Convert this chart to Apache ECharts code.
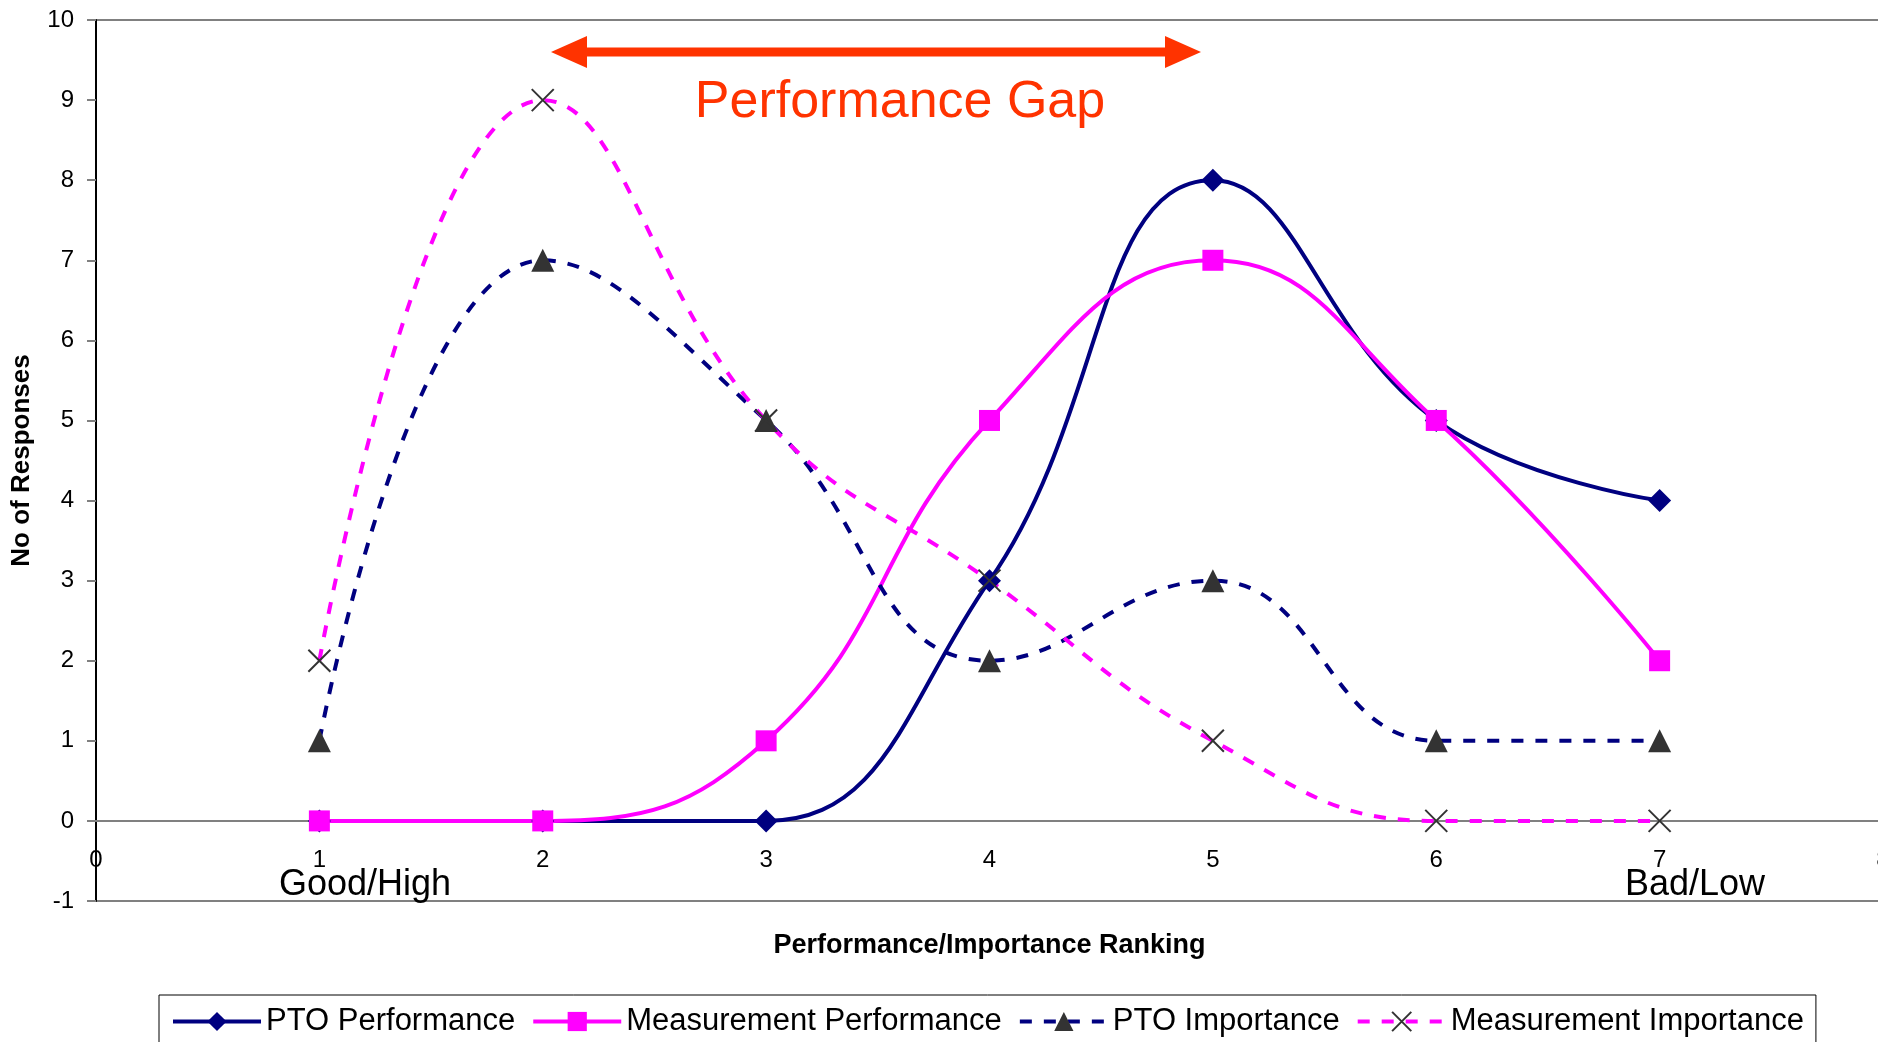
<!DOCTYPE html>
<html>
<head>
<meta charset="utf-8">
<script src="https://cdn.jsdelivr.net/npm/echarts@6/dist/echarts.min.js"></script>
<style>
  html, body { margin: 0; padding: 0; background: #fff; }
  #chart { width: 1878px; height: 1042px; }
</style>
</head>
<body>
<div id="chart"></div>
<script>
// Rankings 1 (good/high) .. 7 (bad/low)
const rankings = [1, 2, 3, 4, 5, 6, 7];

const ptoPerformance = [0, 0, 0, 3, 8, 5, 4];
const measurementPerformance = [0, 0, 1, 5, 7, 5, 2];
const ptoImportance = [1, 7, 5, 2, 3, 1, 1];
const measurementImportance = [2, 9, 5, 3, 1, 0, 0];

const seriesNames = ['PTO Performance', 'Measurement Performance', 'PTO Importance', 'Measurement Importance'];

const NAVY = '#000080';
const MAGENTA = '#FF00FF';
const MARKER_GREY = '#333333';
const GAP_RED = '#FF3300';
const FONT = '"Liberation Sans", Arial, sans-serif';

const pairs = vals => rankings.map((r, i) => [r, vals[i]]);
const CROSS = 'path://M0,0L10,10M10,0L0,10';

// plot area: y from -1 to 10 over 881px, so one unit is 881 / 11 px
const GRID_H = 881;
const UNIT_Y = GRID_H / 11;

const chart = echarts.init(document.getElementById('chart'));

chart.setOption({
  animation: false,
  textStyle: { fontFamily: FONT },
  grid: {
    left: 96, top: 20, width: 1787, height: GRID_H,
    outerBoundsMode: 'none',
    containLabel: false,
    show: true, borderColor: '#808080', borderWidth: 2, backgroundColor: 'transparent'
  },
  xAxis: {
    type: 'value', min: 0, max: 8, interval: 1,
    // the ranking axis crosses at y = 0, one unit above the bottom of the plot
    offset: -UNIT_Y,
    axisLine: { onZero: false, lineStyle: { color: '#808080', width: 2 } },
    axisTick: { show: false },
    splitLine: { show: false },
    axisLabel: { fontSize: 24, color: '#000', margin: 27, fontFamily: FONT },
    name: 'Performance/Importance Ranking',
    nameLocation: 'middle',
    nameGap: 111,
    nameTextStyle: { fontSize: 27, fontWeight: 'bold', color: '#000', fontFamily: FONT }
  },
  yAxis: {
    type: 'value', min: -1, max: 10, interval: 1,
    axisLine: { show: true, onZero: false, lineStyle: { color: '#000', width: 2 } },
    axisTick: { show: true, length: 9, lineStyle: { color: '#808080', width: 2 } },
    splitLine: { show: false },
    axisLabel: { fontSize: 24, color: '#000', margin: 22, fontFamily: FONT },
    name: 'No of Responses',
    nameLocation: 'middle',
    nameRotate: 90,
    nameGap: 61,
    nameTextStyle: { fontSize: 26, fontWeight: 'bold', color: '#000', fontFamily: FONT }
  },
  legend: {
    left: 159, top: 995,
    orient: 'horizontal',
    padding: [11, 12, 11, 12],
    borderColor: '#000', borderWidth: 1,
    itemWidth: 88, itemHeight: 24, itemGap: 16,
    lineStyle: { width: 4 },
    textStyle: { fontSize: 31, color: '#000', fontFamily: FONT },
    data: seriesNames
  },
  series: [
    {
      name: seriesNames[0], type: 'line', smooth: 0.45,
      data: pairs(ptoPerformance),
      symbol: 'diamond', symbolSize: 23,
      lineStyle: { color: NAVY, width: 4 },
      itemStyle: { color: NAVY }
    },
    {
      name: seriesNames[1], type: 'line', smooth: 0.45,
      data: pairs(measurementPerformance),
      symbol: 'rect', symbolSize: 21,
      lineStyle: { color: MAGENTA, width: 4 },
      itemStyle: { color: MAGENTA }
    },
    {
      name: seriesNames[2], type: 'line', smooth: 0.45,
      data: pairs(ptoImportance),
      symbol: 'triangle', symbolSize: 23,
      lineStyle: { color: NAVY, width: 4, type: [12, 12] },
      itemStyle: { color: MARKER_GREY }
    },
    {
      name: seriesNames[3], type: 'line', smooth: 0.45,
      data: pairs(measurementImportance),
      symbol: CROSS, symbolSize: 22,
      lineStyle: { color: MAGENTA, width: 4, type: [12, 12] },
      itemStyle: { color: 'none', borderColor: MARKER_GREY, borderWidth: 2 }
    }
  ],
  graphic: [
    {
      type: 'polygon',
      shape: {
        points: [
          [551, 52], [587, 36], [587, 47.5], [1165, 47.5], [1165, 36],
          [1201, 52], [1165, 68], [1165, 56.5], [587, 56.5], [587, 68]
        ]
      },
      style: { fill: GAP_RED },
      z: 10
    },
    {
      type: 'text', x: 900, y: 103,
      style: {
        text: 'Performance Gap', fill: GAP_RED, font: '52px ' + FONT,
        textAlign: 'center', textVerticalAlign: 'middle'
      },
      z: 10
    },
    {
      type: 'text', x: 365, y: 885,
      style: {
        text: 'Good/High', fill: '#000', font: '36px ' + FONT,
        textAlign: 'center', textVerticalAlign: 'middle'
      }
    },
    {
      type: 'text', x: 1695, y: 885,
      style: {
        text: 'Bad/Low', fill: '#000', font: '36px ' + FONT,
        textAlign: 'center', textVerticalAlign: 'middle'
      }
    }
  ]
});
</script>
</body>
</html>
